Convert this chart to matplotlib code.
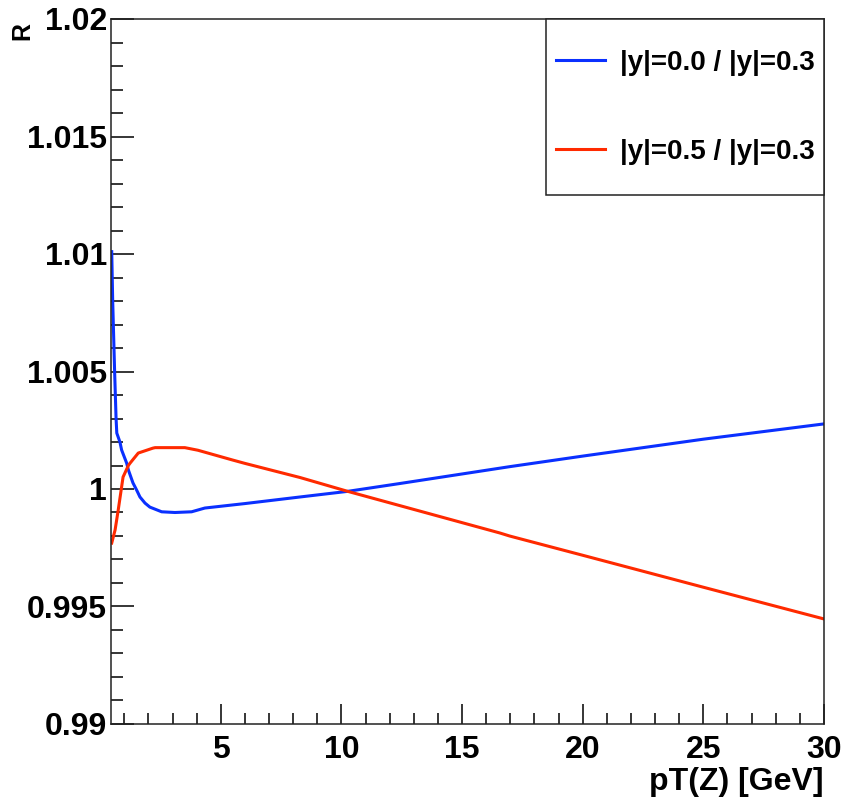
import numpy as np
import matplotlib
matplotlib.use("Agg")
import matplotlib.pyplot as plt
from matplotlib.ticker import MultipleLocator, FuncFormatter

# ------------------------------------------------------------
# Ratio curves
# ------------------------------------------------------------

pt_blue = [0.48, 0.52, 0.60, 0.66, 0.69, 0.82, 0.89, 1.10, 1.17, 1.36, 1.51,
           1.65, 1.86, 2.06, 2.55, 3.10, 3.79, 4.34, 6.0, 8.28, 10.26, 12.4,
           16.97, 20.0, 25.0, 30.0]
r_blue = [1.0101, 1.0080, 1.0050, 1.0030, 1.00238, 1.0020, 1.00166, 1.0011,
          1.00081, 1.00026, 0.99996, 0.99966, 0.99940, 0.99923, 0.99903,
          0.99900, 0.99903, 0.99919, 0.99938, 0.99966, 0.9999, 1.00023,
          1.00095, 1.00140, 1.00212, 1.00277]

pt_red = [0.48, 0.62, 0.75, 0.95, 1.17, 1.24, 1.58, 2.19, 2.28, 3.51, 4.05,
          5.5, 6.0, 8.28, 10.26, 16.56, 16.97, 20.0, 25.0, 30.0]
r_red = [0.9977, 0.99826, 0.99911, 1.00051, 1.0010, 1.0011, 1.00153, 1.00174,
         1.00176, 1.00176, 1.00165, 1.00123, 1.00109, 1.00049, 0.9999,
         0.99813, 0.99800, 0.99718, 0.99582, 0.99447]

labels = ["|y|=0.0 / |y|=0.3", "|y|=0.5 / |y|=0.3"]
colors = ["#0a30ff", "#ff2a00"]

x_range = (0.45, 30)
y_range = (0.99, 1.02)


plt.rcParams["font.family"] = ["Liberation Sans", "DejaVu Sans"]
plt.rcParams["font.weight"] = "bold"

W, H = 845, 801
fig = plt.figure(figsize=(W / 100, H / 100), dpi=100)
ax = fig.add_axes([111 / W, (H - 724) / H, 713 / W, 705 / H])

ax.plot(pt_blue, r_blue, color=colors[0], lw=2.2, label=labels[0])
ax.plot(pt_red, r_red, color=colors[1], lw=2.2, label=labels[1])

ax.set_xlim(*x_range)
ax.set_ylim(*y_range)

ax.xaxis.set_major_locator(MultipleLocator(5))
ax.xaxis.set_minor_locator(MultipleLocator(1))
ax.yaxis.set_major_locator(MultipleLocator(0.005))
ax.yaxis.set_minor_locator(MultipleLocator(0.001))
ax.yaxis.set_major_formatter(FuncFormatter(lambda v, p: f"{v:g}"))
ax.xaxis.set_major_formatter(FuncFormatter(lambda v, p: f"{v:g}"))

ax.tick_params(axis="y", which="major", direction="in", length=16.5,
               width=1.1, labelsize=23, pad=3)
ax.tick_params(axis="y", which="minor", direction="in", length=8.6, width=1.1)
ax.tick_params(axis="x", which="major", direction="in", length=14.4,
               width=1.1, labelsize=23, pad=8)
ax.tick_params(axis="x", which="minor", direction="in", length=8, width=1.1)
for lab in ax.get_xticklabels() + ax.get_yticklabels():
    lab.set_fontweight("bold")

for sp in ax.spines.values():
    sp.set_linewidth(1.1)
    sp.set_color("#222222")

fs = 20
leg = ax.legend(loc="upper right", bbox_to_anchor=(1.0, 1.0),
                borderaxespad=0, fancybox=False, framealpha=1,
                edgecolor="#222222", prop={"size": fs, "weight": "bold"},
                borderpad=0.34, handleheight=3.4, labelspacing=0.75,
                handlelength=1.75, handletextpad=0.55)
leg.get_frame().set_linewidth(1.1)
# put the legend lines at the height of the text middle
for ln in leg.get_lines():
    ln.set_ydata(np.full(len(ln.get_xdata()), 0.36 * fs))

fig.text(824 / W, (H - 790) / H, "pT(Z) [GeV]", ha="right", va="baseline",
         fontsize=23, fontweight="bold")
fig.text(22 / W, 1 - 22 / H, "R", ha="center", va="top", rotation=90,
         fontsize=18, fontweight="bold")

fig.savefig("out.png", dpi=100)
